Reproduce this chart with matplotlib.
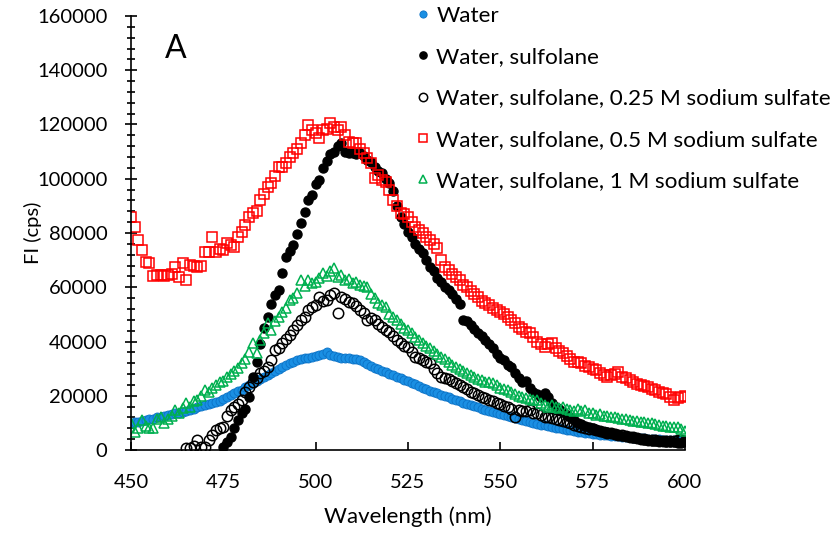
import matplotlib
matplotlib.use("Agg")
import matplotlib.pyplot as plt
import numpy as np
from matplotlib.ticker import MultipleLocator

plt.rcParams["font.family"] = ["Lato", "DejaVu Sans"]

# wavelength grid, 1 nm steps
wl_all = np.arange(450, 601)        # 450..600
wl_sulf = np.arange(475, 601)       # 475..600
wl_025 = np.arange(465, 601)        # 465..600

# FI values in thousands of cps
water = [
    10.0, 10.2, 10.4, 10.7, 11.0, 11.3, 11.6, 12.0, 12.3, 12.6,
    12.9, 13.2, 13.5, 13.8, 14.1, 14.5, 14.9, 15.3, 15.7, 16.1,
    16.5, 16.9, 17.3, 17.7, 18.2, 18.8, 19.5, 20.2, 20.9, 21.6,
    22.3, 23.1, 23.9, 24.6, 25.3, 26.0, 26.8, 27.6, 28.4, 29.2,
    30.0, 30.7, 31.3, 31.9, 32.5, 33.0, 33.4, 33.8, 34.1, 34.4,
    34.7, 35.0, 35.3, 36.0, 34.9, 34.5, 34.2, 34.0, 34.1, 33.9,
    33.7, 33.5, 33.2, 32.6, 31.8, 31.0, 30.3, 29.8, 29.3, 28.8,
    28.2, 27.6, 27.0, 26.4, 25.9, 25.4, 24.8, 24.2, 23.6, 23.0,
    22.4, 21.9, 21.4, 20.9, 20.4, 19.9, 19.4, 18.9, 18.4, 17.9,
    17.4, 16.9, 16.5, 16.1, 15.7, 15.3, 14.9, 14.5, 14.1, 13.7,
    13.3, 12.9, 12.5, 12.1, 11.7, 11.3, 11.0, 10.6, 10.3, 10.0,
    9.7, 9.4, 9.1, 8.8, 8.5, 8.2, 8.0, 7.7, 7.5, 7.2,
    7.0, 6.8, 6.6, 6.4, 6.2, 6.0, 5.8, 5.7, 5.5, 5.4,
    5.2, 5.1, 5.0, 4.9, 4.8, 4.7, 4.6, 4.5, 4.4, 4.3,
    4.2, 4.1, 4.0, 3.9, 3.8, 3.8, 3.7, 3.6, 3.6, 3.5,
    3.5,
]

sulfolane = [
    1.0, 3.0, 4.8, 8.0, 11.0,
    13.5, 15.0, 19.5, 27.0, 32.4, 39.0, 45.0, 49.0, 54.0, 57.0,
    59.0, 65.3, 71.0, 73.5, 75.5, 79.5, 83.7, 87.8, 92.0, 94.0,
    98.0, 99.5, 104.0, 106.5, 109.0, 110.0, 112.0, 113.0, 110.0, 109.5,
    109.5, 109.0, 109.5, 108.5, 107.0, 106.0, 104.5, 103.0, 102.0, 100.0,
    98.5, 95.5, 90.0, 86.0, 83.5, 80.5, 78.5, 76.0, 74.0, 72.5,
    70.0, 67.5, 66.0, 63.5, 62.0, 60.0, 59.0, 57.5, 55.5, 54.0,
    48.0, 47.5, 46.0, 44.5, 43.0, 42.0, 40.5, 39.0, 37.5, 35.5,
    34.0, 33.0, 31.5, 30.5, 28.5, 26.5, 25.0, 25.5, 23.0, 21.5,
    20.5, 19.5, 21.0, 19.5, 17.5, 16.0, 15.0, 14.0, 13.0, 12.0,
    11.0, 10.0, 9.5, 9.0, 8.5, 8.0, 7.5, 7.0, 6.8, 6.5,
    6.2, 5.8, 5.5, 5.3, 5.0, 4.8, 4.5, 4.3, 4.0, 3.8,
    3.7, 3.5, 3.4, 3.3, 3.2, 3.0, 2.9, 2.8, 2.7, 2.6,
    3.5,
]

sulf_025 = [
    0.7, 0.7, 1.5, 3.7, 1.0,
    1.0, 3.7, 5.5, 7.4, 8.1, 8.5, 12.5, 14.7, 15.9, 17.0,
    18.4, 21.5, 23.2, 25.0, 26.5, 28.4, 29.0, 30.6, 33.0, 36.9,
    37.5, 39.4, 41.0, 42.5, 44.2, 46.0, 48.0, 49.0, 51.5, 52.7,
    53.5, 56.4, 55.0, 55.3, 57.0, 58.0, 50.5, 56.4, 55.5, 54.5,
    54.2, 53.0, 51.6, 50.5, 47.9, 48.5, 47.9, 46.5, 45.5, 44.2,
    43.5, 42.0, 40.5, 39.4, 38.5, 38.0, 36.0, 34.3, 34.0, 33.0,
    32.5, 32.1, 30.0, 28.5, 26.9, 26.5, 26.0, 25.5, 24.7, 24.0,
    23.2, 22.5, 21.5, 21.0, 20.3, 19.5, 19.0, 18.4, 18.0, 17.2,
    16.8, 16.2, 15.9, 15.3, 12.2, 14.8, 14.5, 14.2, 14.7, 13.8,
    13.5, 13.0, 12.2, 12.0, 11.7, 11.3, 11.0, 10.8, 10.3, 9.8,
    9.3, 8.8, 8.5, 8.2, 7.9, 7.6, 7.3, 7.0, 6.7, 6.4,
    6.2, 5.9, 5.6, 5.4, 5.1, 4.9, 4.7, 4.5, 4.2, 4.0,
    3.8, 3.7, 3.6, 3.5, 3.5, 3.4, 3.4, 3.5, 3.6, 3.7,
    3.5,
]

sulf_05 = [
    86.0, 82.3, 77.4, 73.7, 69.3, 69.0, 64.0, 64.5, 64.5, 64.0,
    64.5, 65.0, 67.5, 63.8, 68.9, 62.7, 68.2, 68.0, 67.5, 68.0,
    73.0, 73.0, 78.5, 73.0, 74.0, 73.7, 76.3, 75.5, 74.9, 78.5,
    80.4, 83.0, 85.9, 87.4, 88.0, 92.2, 94.5, 97.0, 98.4, 101.0,
    104.3, 104.5, 105.8, 108.0, 109.5, 111.0, 113.2, 116.0, 119.8, 118.0,
    117.0, 115.0, 118.0, 118.5, 120.6, 119.0, 118.0, 119.1, 116.0, 113.5,
    113.0, 113.2, 111.0, 109.5, 107.5, 105.8, 100.3, 101.5, 99.5, 98.8,
    96.0, 92.2, 90.0, 87.4, 87.0, 85.9, 84.0, 82.3, 81.0, 80.0,
    78.5, 77.4, 76.0, 74.5, 70.0, 67.5, 66.5, 65.0, 63.8, 62.5,
    61.0, 60.1, 58.5, 57.5, 56.4, 55.0, 54.2, 53.5, 52.5, 51.6,
    51.0, 50.0, 49.0, 48.0, 46.8, 45.5, 44.5, 43.5, 43.1, 41.5,
    40.0, 39.0, 38.0, 39.0, 39.4, 37.5, 36.5, 35.8, 34.5, 33.5,
    32.4, 32.5, 32.1, 31.0, 30.5, 30.0, 29.5, 28.5, 27.5, 26.9,
    27.5, 28.0, 28.8, 27.0, 26.5, 25.8, 25.0, 24.5, 24.0, 23.5,
    23.2, 22.5, 22.0, 21.5, 21.0, 20.5, 19.5, 18.4, 19.0, 19.5,
    20.0,
]

sulf_1 = [
    10.0, 6.6, 8.0, 11.0, 9.0, 8.1, 8.1, 11.5, 12.0, 10.0,
    11.5, 12.5, 14.7, 13.5, 15.5, 17.3, 16.0, 18.0, 18.4, 20.0,
    22.1, 21.5, 23.0, 24.0, 25.0, 25.5, 26.9, 28.0, 29.0, 30.2,
    32.1, 33.5, 36.0, 39.4, 35.8, 40.5, 43.0, 46.8, 44.2, 47.5,
    49.0, 50.9, 52.5, 55.3, 56.0, 58.0, 62.7, 60.5, 62.7, 61.5,
    62.0, 63.5, 65.3, 64.0, 66.0, 67.1, 63.8, 64.5, 62.5, 63.0,
    61.6, 62.0, 61.0, 60.5, 60.1, 57.5, 56.0, 54.2, 53.5, 52.7,
    50.0, 49.0, 47.9, 46.5, 45.0, 44.2, 43.0, 41.7, 40.5, 39.4,
    38.5, 37.5, 36.5, 35.5, 34.3, 33.5, 32.5, 31.5, 30.6, 30.0,
    29.2, 28.3, 27.5, 26.9, 26.3, 25.8, 25.2, 24.9, 24.7, 23.8,
    23.0, 22.5, 22.1, 21.3, 20.6, 20.0, 19.5, 19.2, 18.8, 18.5,
    18.4, 17.5, 16.5, 15.9, 16.5, 16.0, 15.5, 15.9, 15.2, 14.8,
    14.5, 15.0, 14.2, 14.7, 13.8, 13.5, 13.0, 13.3, 12.7, 12.4,
    12.2, 12.0, 11.8, 11.6, 11.3, 11.0, 10.8, 10.6, 10.5, 10.3,
    10.0, 9.8, 9.6, 9.3, 9.0, 8.8, 8.6, 8.5, 8.4, 7.8,
    7.0,
]

labels = [
    "Water",
    "Water, sulfolane",
    "Water, sulfolane, 0.25 M sodium sulfate",
    "Water, sulfolane, 0.5 M sodium sulfate",
    "Water, sulfolane, 1 M sodium sulfate",
]

fig = plt.figure(figsize=(8.38, 5.33), dpi=100)
ax = fig.add_axes([0.1563, 0.1557, 0.661, 0.8143])

k = 1000
ax.plot(wl_all, np.array(water) * k, 'o', ms=6.5, mfc='#1A8FE3', mec='#0B72C6',
        mew=0.6, label=labels[0])
ax.plot(wl_sulf, np.array(sulfolane) * k, 'o', ms=6.5, mfc='black', mec='black',
        label=labels[1])
ax.plot(wl_025, np.array(sulf_025) * k, 'o', ms=7.5, mfc='none', mec='black',
        mew=1.1, label=labels[2])
ax.plot(wl_all, np.array(sulf_05) * k, 's', ms=7.5, mfc='none', mec='#FF0000',
        mew=1.1, label=labels[3])
ax.plot(wl_all, np.array(sulf_1) * k, '^', ms=7.5, mfc='none', mec='#00B050',
        mew=1.1, label=labels[4])

ax.set_xlim(450, 600)
ax.set_ylim(0, 160000)
ax.xaxis.set_major_locator(MultipleLocator(25))
ax.yaxis.set_major_locator(MultipleLocator(20000))
ax.yaxis.set_minor_locator(MultipleLocator(4000))
ax.spines['top'].set_visible(False)
ax.spines['right'].set_visible(False)
ax.spines['left'].set_linewidth(1.2)
ax.spines['bottom'].set_linewidth(1.2)
ax.tick_params(axis='y', which='major', direction='inout', length=8, width=1.2,
               labelsize=14.5, pad=13)
ax.tick_params(axis='y', which='minor', direction='inout', length=6, width=1.2)
ax.tick_params(axis='x', which='major', direction='in', length=6, width=1.2,
               labelsize=14.5, pad=17)

ax.set_xlabel("Wavelength (nm)", fontsize=16)
ax.set_ylabel("FI (cps)", fontsize=14.5)
ax.xaxis.set_label_coords(0.5, -0.13)
ax.yaxis.set_label_coords(-0.16, 0.5)
ax.text(0.062, 0.925, "A", transform=ax.transAxes, fontsize=23, va='center')

fig.legend(loc='upper left', bbox_to_anchor=(0.4856, 1.006), frameon=False,
           fontsize=16.2, markerscale=0.8, handlelength=0.6, handletextpad=0.3,
           labelspacing=0.95, borderaxespad=0)

fig.savefig("out.png", dpi=100)
